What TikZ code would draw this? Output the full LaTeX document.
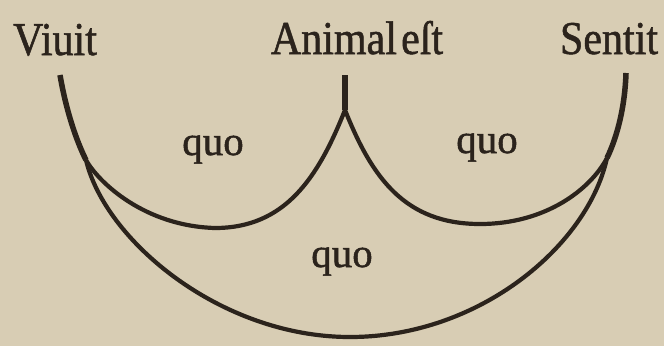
\documentclass[tikz,border=0pt]{standalone}
\usepackage{fontspec}
\setmainfont{Liberation Serif}
\newfontfamily\heavyserif[FakeBold=1.2]{Liberation Serif}
\definecolor{paper}{HTML}{D8CDB4}
\definecolor{ink}{HTML}{2B231C}
\tikzset{
  word/.style={inner sep=0pt, anchor=base, text=ink, font=\heavyserif\fontsize{42}{42}\selectfont},
  quolabel/.style={inner sep=0pt, anchor=base, text=ink, font=\heavyserif\fontsize{41}{41}\selectfont},
  arc/.style={draw=ink, line width=4.2pt, line cap=butt, line join=round},
  stem/.style={draw=ink, line width=5.5pt, line cap=butt},
}
\begin{document}
\begin{tikzpicture}[x=1pt,y=-1pt]
\fill[paper] (0,0) rectangle (664,346);
\useasboundingbox (0,0) rectangle (664,346);
% words
\node[word] (viuit) at (55,55) {\scalebox{1}[1.12]{Viuit}};
\node[word] (animal) at (357,54) {\scalebox{1}[1.12]{Animal\hspace{0.1em}eſt}};
\node[word] (sentit) at (609,54) {\scalebox{1}[1.12]{Sentit}};
% points of the arcs
\coordinate (vtop) at (60,75);
\coordinate (vsplit) at (86,160);
\coordinate (atop) at (345,75);
\coordinate (asplit) at (345,110);
\coordinate (stop) at (626,73);
\coordinate (ssplit) at (607,158);
\coordinate (lbot) at (215,228);
\coordinate (rbot) at (480,224);
\coordinate (bbot) at (350,337);
% big arc
\draw[arc] (vsplit) .. controls (105,240) and (220,337) .. (bbot)
  .. controls (480,337) and (588,245) .. (ssplit);
% left small arc
\draw[arc] (vsplit) .. controls (99,183) and (145,226) .. (lbot)
  .. controls (285,228) and (318,178) .. (asplit);
% right small arc
\draw[arc] (asplit) .. controls (372,178) and (405,224) .. (rbot)
  .. controls (545,224) and (590,190) .. (ssplit);
% stems
\draw[stem] (vtop) .. controls (66,110) and (76,140) .. (vsplit);
\draw[stem] (atop) -- (asplit);
\draw[stem] (stop) .. controls (625,105) and (618,135) .. (ssplit);
% labels
\node[quolabel] (q1) at (213,155) {quo};
\node[quolabel] (q2) at (487,153) {quo};
\node[quolabel] (q3) at (342,267) {quo};
\end{tikzpicture}
\end{document}
